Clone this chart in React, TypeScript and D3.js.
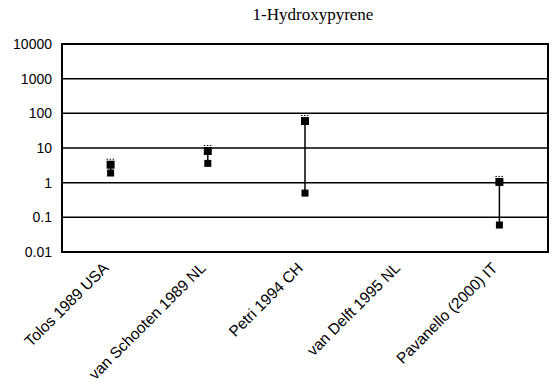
import React from "react";
import * as d3 from "d3";

const categories = ["Tolos 1989 USA", "van Schooten 1989 NL", "Petri 1994 CH", "van Delft 1995 NL", "Pavanello (2000) IT"];
const lowValues: (number | null)[] = [1.9, 3.6, 0.5, null, 0.06];
const highValues: (number | null)[] = [3.3, 8.2, 60, null, 1.05];
const yTicks = [0.01, 0.1, 1, 10, 100, 1000, 10000];
const yTickLabels = ["0.01", "0.1", "1", "10", "100", "1000", "10000"];
const title = "1-Hydroxypyrene";

const W = 554, H = 384;
const M = { left: 62, right: 6, top: 44, bottom: 132 };

export default function App() {
  const x = d3.scaleBand<string>().domain(categories).range([M.left, W - M.right]).padding(0);
  const y = d3.scaleLog().domain([0.01, 10000]).range([H - M.bottom, M.top]);
  const cx = (c: string) => (x(c) as number) + x.bandwidth() / 2;
  const ms = 7;
  return (
    <svg width={W} height={H} style={{ position: "absolute", left: 0, top: 0, background: "#fff" }}
      fontFamily="'Liberation Sans', Arial, sans-serif">
      <text x={313} y={20} textAnchor="middle" fontFamily="'Liberation Serif', 'Times New Roman', serif" fontSize={17}>{title}</text>
      {yTicks.map((t, i) => (
        <g key={t}>
          <line x1={M.left} x2={W - M.right} y1={y(t)} y2={y(t)} stroke="#000" strokeWidth={1.5} />
          <text x={M.left - 10} y={y(t)} dy="0.35em" textAnchor="end" fontSize={14}>{yTickLabels[i]}</text>
        </g>
      ))}
      <rect x={M.left} y={M.top} width={W - M.right - M.left} height={H - M.bottom - M.top} fill="none" stroke="#000" strokeWidth={2} />
      {categories.map((c, i) => {
        const lo = lowValues[i], hi = highValues[i];
        if (lo == null || hi == null) return null;
        const px = cx(c);
        return (
          <g key={c}>
            <line x1={px} x2={px} y1={y(lo)} y2={y(hi)} stroke="#000" strokeWidth={1.5} />
            <rect x={px - ms / 2} y={y(lo) - ms / 2} width={ms} height={ms} fill="#000" />
            <rect x={px - (ms + 1) / 2} y={y(hi) - (ms + 1) / 2} width={ms + 1} height={ms + 1} fill="#000" />
            <line x1={px - (ms + 1) / 2} x2={px + (ms + 1) / 2} y1={y(hi) - (ms + 1) / 2 - 1.5} y2={y(hi) - (ms + 1) / 2 - 1.5} stroke="#000" strokeWidth={1} strokeDasharray="1.5,1.5" />
          </g>
        );
      })}
      {categories.map((c) => (
        <text key={c} fontSize={15.5} textAnchor="end" transform={`translate(${cx(c) - 1},${H - M.bottom + 17}) rotate(-45)`}>{c}</text>
      ))}
    </svg>
  );
}
